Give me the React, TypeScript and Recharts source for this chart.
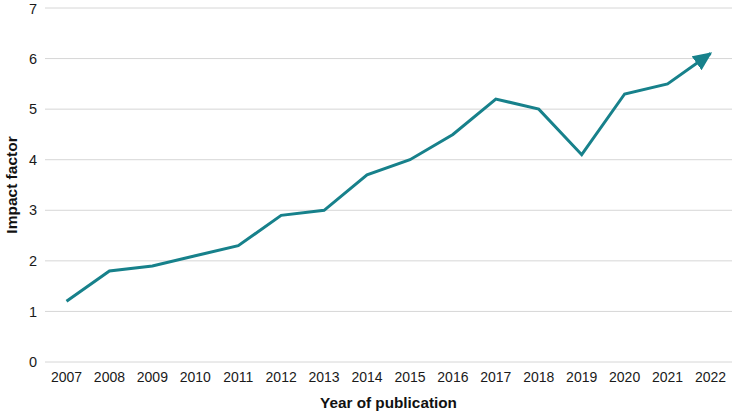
import { LineChart, Line, XAxis, YAxis, CartesianGrid } from 'recharts'

const years = ['2007', '2008', '2009', '2010', '2011', '2012', '2013', '2014', '2015', '2016', '2017', '2018', '2019', '2020', '2021', '2022']
const impactFactor = [1.2, 1.8, 1.9, 2.1, 2.3, 2.9, 3.0, 3.7, 4.0, 4.5, 5.2, 5.0, 4.1, 5.3, 5.5, 6.1]
const yTicks = [0, 1, 2, 3, 4, 5, 6, 7]

const TEAL = '#17818b'
const FONT = '"Liberation Sans", Arial, Helvetica, sans-serif'

export default function App() {
  const data = years.map((y, i) => ({ year: y, value: impactFactor[i] }))

  return (
    <div style={{ position: 'fixed', left: 0, top: 0, width: 732, height: 412, background: '#fff', fontFamily: FONT }}>
      <LineChart width={732} height={412} data={data} margin={{ top: 8, right: 0, bottom: 0, left: 0 }}>
        <defs>
          {/* arrow head drawn at the end of the line */}
          <marker id="arrowHead" viewBox="0 0 19 17" refX={17} refY={8.5} markerWidth={19} markerHeight={17} markerUnits="userSpaceOnUse" orient="auto">
            <path d="M0,0 L19,8.5 L0,17 z" fill={TEAL} />
          </marker>
        </defs>
        <CartesianGrid vertical={false} stroke="#d6d6d6" strokeWidth={1} />
        <XAxis
          dataKey="year"
          height={50}
          padding={{ left: 21.5, right: 21.5 }}
          axisLine={false}
          tickLine={false}
          tickMargin={4}
          interval={0}
          tick={{ fill: '#1a1a1a', fontSize: 14, fontFamily: FONT }}
          label={{ value: 'Year of publication', position: 'insideBottom', offset: 4, fill: '#111', fontSize: 15.3, fontWeight: 'bold', fontFamily: FONT }}
        />
        <YAxis
          width={45}
          domain={[0, 7]}
          ticks={yTicks}
          axisLine={false}
          tickLine={false}
          tick={{ fill: '#1a1a1a', fontSize: 14.5, fontFamily: FONT }}
          label={{ value: 'Impact factor', angle: -90, position: 'insideLeft', offset: 11, fill: '#111', fontSize: 15.5, fontWeight: 'bold', fontFamily: FONT, style: { textAnchor: 'middle' } }}
        />
        <Line
          type="linear"
          dataKey="value"
          stroke={TEAL}
          strokeWidth={3}
          dot={false}
          activeDot={false}
          markerEnd="url(#arrowHead)"
          isAnimationActive={false}
        />
      </LineChart>
    </div>
  )
}
